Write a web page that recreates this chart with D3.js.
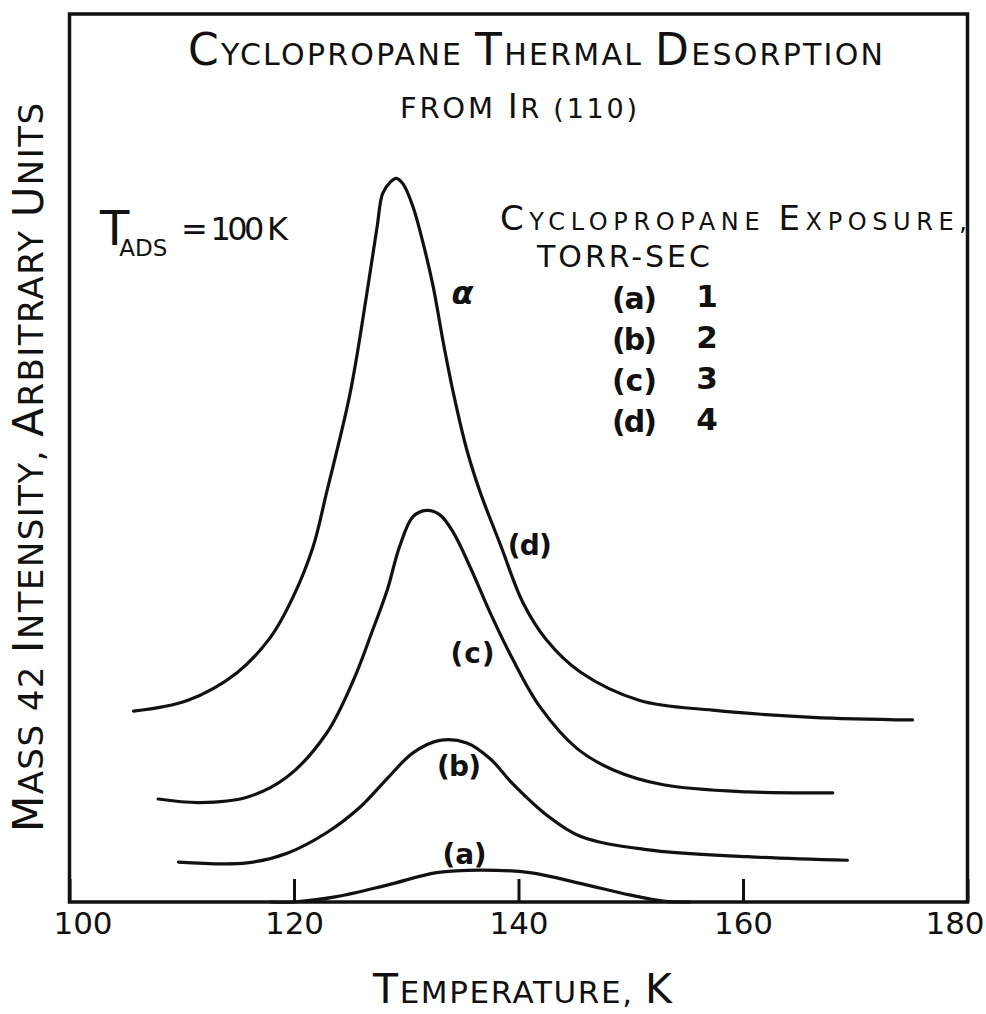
<!DOCTYPE html>
<html>
<head>
<meta charset="utf-8">
<script src="https://cdn.jsdelivr.net/npm/d3@7"></script>
<style>
  html, body { margin: 0; padding: 0; background: #fff; }
  svg { display: block; }
  text { font-family: "DejaVu Sans", "Liberation Sans", sans-serif; fill: #111; }
</style>
</head>
<body>
<div id="chart"></div>
<script>
// ---- Data (temperature K, mass-42 intensity in arbitrary units) -------------
const xTicks = [100, 120, 140, 160, 180];

// (d) 4 torr-sec, alpha peak
const curveD = [
  [105.7, 21.5], [110.5, 22.7], [114.9, 25.8], [117.9, 29.8], [119.9, 34.3],
  [121.7, 40.0], [122.9, 46.1], [125.0, 57.3], [126.5, 68.6], [127.4, 76.0],
  [127.9, 79.8], [128.6, 81.1], [129.1, 81.5], [129.7, 80.9], [130.6, 78.3],
  [131.5, 74.2], [132.4, 69.3], [133.3, 63.0], [134.2, 57.3], [135.4, 50.9],
  [136.6, 46.1], [138.4, 40.2], [140.4, 33.7], [142.5, 29.5], [145.5, 25.9],
  [150.8, 22.7], [157.3, 21.6], [166.2, 20.8], [175.1, 20.5]
];
// (c) 3 torr-sec
const curveC = [
  [107.9, 11.6], [111.6, 11.2], [115.8, 11.8], [119.4, 14.1], [122.9, 19.0],
  [125.3, 25.0], [127.0, 30.6], [128.3, 35.1], [129.4, 40.0], [130.6, 43.4],
  [131.8, 44.1], [133.0, 43.6], [134.2, 41.6], [135.7, 37.7], [137.5, 32.5],
  [139.5, 27.3], [141.9, 22.0], [145.2, 17.3], [148.4, 14.9], [152.9, 13.2],
  [160.4, 12.4], [168.0, 12.3]
];
// (b) 2 torr-sec
const curveB = [
  [109.7, 4.5], [115.8, 4.4], [119.4, 5.5], [122.9, 7.8], [125.9, 10.7],
  [128.3, 13.9], [130.6, 16.8], [133.0, 18.2], [135.4, 17.9], [137.5, 16.1],
  [139.5, 13.3], [142.5, 9.8], [145.5, 7.4], [151.4, 5.9], [160.4, 5.1],
  [169.3, 4.7]
];
// (a) 1 torr-sec
const curveA = [
  [117.9, 0.0], [119.9, 0.0], [123.8, 0.6], [128.3, 1.9], [132.7, 3.3],
  [136.6, 3.6], [141.0, 3.3], [145.5, 2.1], [149.9, 0.8], [152.9, 0.1],
  [155.3, 0.0]
];

const curveLabels = ['(d)', '(c)', '(b)', '(a)'];
const curveLabelPos = [[141.0, 40.2], [135.9, 28.0], [134.7, 15.3], [135.2, 5.4]];
const alphaPos = [135.0, 68.6];

const legendKeys = ['(a)', '(b)', '(c)', '(d)'];
const exposures = [1, 2, 3, 4];

// ---- Layout ------------------------------------------------------------------
const W = 986, H = 1014;
const M = { left: 69.5, right: 967.5, top: 14, bottom: 902 };

const svg = d3.select('#chart').append('svg')
  .attr('width', W).attr('height', H)
  .attr('viewBox', `0 0 ${W} ${H}`);

const x = d3.scaleLinear().domain([100, 180]).range([M.left, M.right]);
const y = d3.scaleLinear().domain([0, 100]).range([M.bottom, M.top]);

// small-caps lettering: uppercase letters big, everything else small
function caps(sel, str, big, small) {
  const runs = [];
  for (const ch of str) {
    const isBig = ch !== ch.toLowerCase();
    const size = isBig ? big : small;
    if (runs.length && runs[runs.length - 1].size === size) runs[runs.length - 1].s += ch.toUpperCase();
    else runs.push({ s: ch.toUpperCase(), size });
  }
  runs.forEach(r => sel.append('tspan').style('font-size', r.size + 'px').text(r.s));
  return sel;
}

// ---- Frame -------------------------------------------------------------------
svg.append('rect')
  .attr('x', x(100)).attr('y', y(100))
  .attr('width', x(180) - x(100)).attr('height', y(0) - y(100))
  .attr('fill', 'none').attr('stroke', '#111').attr('stroke-width', 3.5);

// x axis: inward ticks + labels
const xAxis = svg.append('g')
  .attr('transform', `translate(0,${M.bottom})`)
  .call(d3.axisBottom(x).tickValues(xTicks).tickSizeInner(-23).tickSizeOuter(0).tickPadding(10).tickFormat(d3.format('d')))
  .call(g => g.select('.domain').remove())
  .call(g => g.selectAll('.tick line').attr('stroke', '#111').attr('stroke-width', 3))
  .call(g => g.selectAll('.tick text')
    .attr('fill', '#111')
    .style('font-family', '"DejaVu Sans", sans-serif')
    .style('font-size', '31px'));
xAxis.selectAll('.tick').filter(d => d === 100).select('text').attr('dx', 13);
xAxis.selectAll('.tick').filter(d => d === 180).select('text').attr('dx', -13);

// ---- Curves ------------------------------------------------------------------
const line = d3.line()
  .x(d => x(d[0]))
  .y(d => y(d[1]))
  .curve(d3.curveCatmullRom.alpha(0.5));

[curveD, curveC, curveB, curveA].forEach(c => {
  svg.append('path')
    .datum(c)
    .attr('d', line)
    .attr('fill', 'none')
    .attr('stroke', '#111')
    .attr('stroke-width', 3.2)
    .attr('stroke-linecap', 'round')
    .attr('stroke-linejoin', 'round');
});

curveLabels.forEach((lab, i) => {
  svg.append('text')
    .attr('x', x(curveLabelPos[i][0]))
    .attr('y', y(curveLabelPos[i][1]))
    .attr('text-anchor', 'middle')
    .attr('dominant-baseline', 'central')
    .style('font-size', '28px')
    .style('font-weight', 'bold')
    .attr('textLength', 44)
    .text(lab);
});

svg.append('text')
  .attr('x', x(alphaPos[0]))
  .attr('y', y(alphaPos[1]))
  .attr('text-anchor', 'middle')
  .attr('dominant-baseline', 'central')
  .style('font-size', '32px')
  .style('font-weight', 'bold')
  .style('font-style', 'italic')
  .text('α');

// ---- Title -------------------------------------------------------------------
caps(svg.append('text').attr('x', 188).attr('y', 65).attr('textLength', 695).attr('lengthAdjust', 'spacing'),
  'Cyclopropane Thermal Desorption', 44, 30);

const t2 = svg.append('text').attr('x', 400).attr('y', 118).attr('textLength', 237).attr('lengthAdjust', 'spacing');
t2.append('tspan').style('font-size', '29px').text('FROM ');
t2.append('tspan').style('font-size', '34px').text('I');
t2.append('tspan').style('font-size', '27px').text('R (110)');

// ---- T_ADS annotation --------------------------------------------------------
const tads = svg.append('text').attr('x', 100).attr('y', 245);
tads.append('tspan').style('font-size', '48px').style('letter-spacing', '-10px').text('T');
tads.append('tspan').attr('dy', 11).style('font-size', '23px').text('ADS');
svg.append('text').attr('x', 181).attr('y', 240).attr('textLength', 107).attr('lengthAdjust', 'spacing')
  .style('font-size', '32px').text('= 100 K');

// ---- Legend ------------------------------------------------------------------
caps(svg.append('text').attr('x', 500).attr('y', 230).attr('textLength', 467).attr('lengthAdjust', 'spacing'),
  'Cyclopropane Exposure,', 34, 24);
svg.append('text').attr('x', 537).attr('y', 267).attr('textLength', 173).attr('lengthAdjust', 'spacing')
  .style('font-size', '30px').text('TORR-SEC');

legendKeys.forEach((k, i) => {
  const yy = 307 + i * 41;
  svg.append('text').attr('x', 612).attr('y', yy + 2).attr('textLength', 45)
    .style('font-size', '30px').style('font-weight', 'bold').text(k);
  svg.append('text').attr('x', 707).attr('y', yy).attr('text-anchor', 'middle')
    .style('font-size', '31px').style('font-weight', 'bold').text(exposures[i]);
});

// ---- Axis titles -------------------------------------------------------------
caps(svg.append('text').attr('x', 373).attr('y', 1003).attr('textLength', 299).attr('lengthAdjust', 'spacing'),
  'Temperature, K', 41, 31);

caps(svg.append('text')
    .attr('transform', 'translate(43,832) rotate(-90)')
    .attr('textLength', 729).attr('lengthAdjust', 'spacing'),
  'Mass 42 Intensity, Arbitrary Units', 42, 34);
</script>
</body>
</html>
